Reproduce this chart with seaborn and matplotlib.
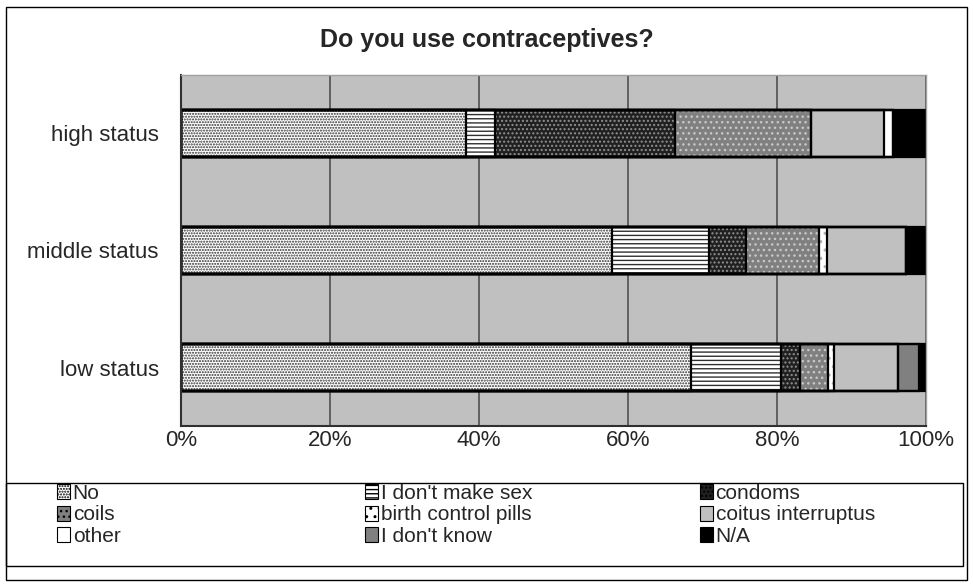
import numpy as np
import pandas as pd
import matplotlib.pyplot as plt
import seaborn as sns
from matplotlib.patches import Patch, Rectangle

# data (percent of respondents)
groups = ['high status', 'middle status', 'low status']
answers = ['No', "I don't make sex", 'condoms', 'coils', 'birth control pills',
           'coitus interruptus', 'other', "I don't know", 'N/A']
high_status = [38.2, 3.9, 24.2, 18.2, 0.0, 9.8, 1.3, 0.0, 4.4]
middle_status = [57.8, 13.1, 5.0, 9.8, 1.0, 10.6, 0.0, 0.0, 2.7]
low_status = [68.5, 12.1, 2.5, 3.7, 0.8, 8.6, 0.0, 2.9, 0.9]

# excel-like fills: face colour, hatch, hatch colour
faces = ['white', 'white', '#202020', '#808080', 'white', '#c0c0c0', 'white', '#808080', 'black']
hatches = ['......', '----', '....', '...', '..', '', '', '', '']
hcolors = ['#303030', '#303030', '#909090', '#c8c8c8', '#b0b0b0', '#c0c0c0', 'white', '#808080', 'black']

sns.set_style('white')
plt.rcParams['font.family'] = ['Liberation Sans', 'DejaVu Sans']
plt.rcParams['hatch.linewidth'] = 1.0

df = pd.DataFrame([high_status, middle_status, low_status], index=groups, columns=answers)
cum = df.cumsum(axis=1)
cum = cum.div(cum.iloc[:, -1], axis=0) * 100

fig = plt.figure(figsize=(9.73, 5.85), dpi=100)
ax = fig.add_axes([181/973, 1 - 426/585, 745/973, 351/585])
ax.set_facecolor('#c0c0c0')

# stacked bars: draw cumulative totals from the last answer down
for i in range(len(answers) - 1, -1, -1):
    sns.barplot(x=cum.iloc[:, i].values, y=groups, orient='h', color=faces[i],
                width=0.4, hatch=hatches[i], edgecolor=hcolors[i], linewidth=0,
                saturation=1, ax=ax)
# black outlines of every segment
for i in range(len(answers) - 1, -1, -1):
    sns.barplot(x=cum.iloc[:, i].values, y=groups, orient='h', facecolor='none',
                width=0.4, edgecolor='black', linewidth=1.6, saturation=1, ax=ax)

ax.set_xlim(0, 100)
ax.set_ylim(2.5, -0.5)
ax.set_xticks(np.arange(0, 101, 20))
ax.set_xticklabels([f'{v}%' for v in range(0, 101, 20)])
ax.xaxis.grid(True, color='#505050', linewidth=1.2)
ax.set_axisbelow(True)
ax.set_xlabel('')
ax.set_ylabel('')
ax.set_yticks([-0.5, 0.5, 1.5, 2.5], minor=True)
ax.tick_params(axis='y', which='major', length=0, pad=16, labelsize=16)
ax.tick_params(axis='y', which='minor', length=6, color='#404040', direction='out')
ax.tick_params(axis='x', length=5, color='#404040', direction='out', labelsize=16, pad=-2)
for s in ['left', 'bottom']:
    ax.spines[s].set_color('#303030')
    ax.spines[s].set_linewidth(1.5)
for s in ['top', 'right']:
    ax.spines[s].set_color('#a0a0a0')
    ax.spines[s].set_linewidth(1.0)

fig.text(0.5, 1 - 40/585, 'Do you use contraceptives?', ha='center', va='center',
         fontsize=18, fontweight='bold')

# outer chart frame and legend box
fig.patches.append(Rectangle((6/973, 1 - 580/585), 961/973, 573/585, transform=fig.transFigure,
                             facecolor='none', edgecolor='black', linewidth=1.0))
fig.patches.append(Rectangle((6/973, 1 - 566/585), 957/973, 83/585, transform=fig.transFigure,
                             facecolor='none', edgecolor='black', linewidth=1.0))

# legend: three columns, filled row by row
handles = [Patch(facecolor=faces[i], hatch=hatches[i], edgecolor='black', linewidth=0.8)
           for i in range(len(answers))]
col_x = [57, 365, 700]
for c in range(3):
    idx = [c, c + 3, c + 6]
    fig.legend([handles[k] for k in idx], [answers[k] for k in idx],
               loc='center left', bbox_to_anchor=(col_x[c]/973, 1 - 515/585),
               fontsize=15, frameon=False, handlelength=0.6, handleheight=0.7,
               handletextpad=0.15, labelspacing=0.12, borderaxespad=0, borderpad=0)

fig.savefig('out.png', dpi=100)
